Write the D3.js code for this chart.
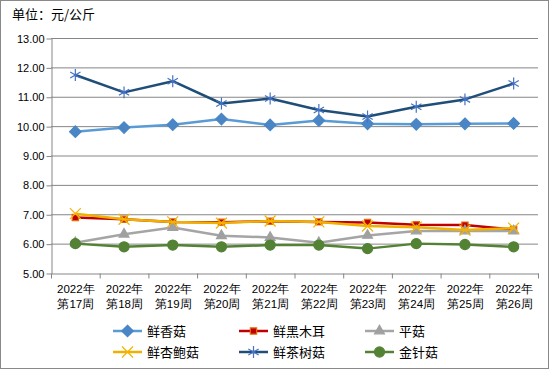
<!DOCTYPE html>
<html>
<head>
<meta charset="utf-8">
<script src="https://cdn.jsdelivr.net/npm/d3@7"></script>
<style>
  body { margin: 0; background: #fff; }
  svg { display: block; font-family: "Noto Sans CJK SC", sans-serif; }
</style>
</head>
<body>
<svg id="mainSvg" width="550" height="370"></svg>
<script>
let weeks = ["第17周","第18周","第19周","第20周","第21周","第22周","第23周","第24周","第25周","第26周"];
let yTicks = [5, 6, 7, 8, 9, 10, 11, 12, 13];

let xiangGu = [9.81, 9.95, 10.05, 10.24, 10.04, 10.19, 10.08, 10.06, 10.08, 10.09];
let heiMuEr = [6.89, 6.83, 6.74, 6.73, 6.76, 6.74, 6.72, 6.64, 6.63, 6.48];
let pingGu = [6.03, 6.32, 6.55, 6.27, 6.21, 6.03, 6.28, 6.43, 6.43, 6.43];
let xingBaoGu = [7.02, 6.83, 6.74, 6.70, 6.77, 6.74, 6.60, 6.56, 6.46, 6.53];
let chaShuGu = [11.74, 11.15, 11.53, 10.77, 10.94, 10.55, 10.33, 10.66, 10.91, 11.45];
let jinZhenGu = [6.00, 5.89, 5.95, 5.89, 5.95, 5.95, 5.83, 6.00, 5.97, 5.89];

let series = [
  {name: "鲜香菇", values: xiangGu, line: "#5B9BD5", fill: "#4A86C5", stroke: "#4A86C5", sym: d3.symbolDiamond2, size: 85},
  {name: "鲜黑木耳", values: heiMuEr, line: "#C00000", fill: "#C00000", stroke: "#E46C0A", sym: d3.symbolSquare2, size: 50},
  {name: "平菇", values: pingGu, line: "#A5A5A5", fill: "#A0A0A0", stroke: "#A0A0A0", sym: d3.symbolTriangle2, size: 70},
  {name: "鲜杏鲍菇", values: xingBaoGu, line: "#F0B000", fill: "none", stroke: "#F5B400", sym: d3.symbolTimes, size: 80},
  {name: "鲜茶树菇", values: chaShuGu, line: "#1F4E79", fill: "none", stroke: "#4472C4", sym: d3.symbolAsterisk, size: 100},
  {name: "金针菇", values: jinZhenGu, line: "#548235", fill: "#548235", stroke: "#548235", sym: d3.symbolCircle, size: 80}
];

let svg = d3.select('#mainSvg');

svg.append('rect')
  .attr('x', 0.5).attr('y', 0.5)
  .attr('width', 548).attr('height', 368)
  .attr('fill', '#fff')
  .attr('stroke', '#898989');

svg.append('text')
  .attr('x', 12).attr('y', 19)
  .attr('font-size', 13)
  .text('单位：元/公斤');

let plotL = 51, plotR = 538, plotT = 38, plotB = 273;

let x = d3.scaleBand().domain(weeks).range([plotL, plotR]);
let y = d3.scaleLinear().domain([5, 13]).range([plotB, plotT]);

// gridlines
svg.append('g').selectAll('line')
  .data(yTicks.slice(1))
  .join('line')
  .attr('x1', plotL).attr('x2', plotR)
  .attr('y1', d => y(d) + 0.5).attr('y2', d => y(d) + 0.5)
  .attr('stroke', '#868686');

// y axis
let yAxis = svg.append('g')
  .attr('transform', `translate(${plotL + 0.5},0.5)`)
  .call(d3.axisLeft(y).tickValues(yTicks).tickFormat(d3.format('.2f')).tickSize(5).tickSizeOuter(0));
yAxis.select('.domain').attr('stroke', '#868686');
yAxis.selectAll('line').attr('stroke', '#868686');
yAxis.selectAll('text').attr('font-size', 11).attr('fill', '#000').attr('x', -7);

// x axis
let xAxis = svg.append('g')
  .attr('transform', `translate(0.5,${plotB + 0.5})`)
  .call(d3.axisBottom(x).tickSize(0).tickSizeOuter(0));
xAxis.select('.domain').attr('stroke', '#868686');
xAxis.selectAll('text').remove();
xAxis.selectAll('.tick').append('line')
  .attr('x1', -x.bandwidth() / 2).attr('x2', -x.bandwidth() / 2)
  .attr('y1', 0).attr('y2', 5)
  .attr('stroke', '#868686');
xAxis.append('line')
  .attr('x1', plotR).attr('x2', plotR).attr('y1', 0).attr('y2', 5)
  .attr('stroke', '#868686');
let lbl = xAxis.selectAll('.tick').append('text')
  .attr('fill', '#000').attr('font-size', 11.5).attr('text-anchor', 'middle');
lbl.append('tspan').attr('x', 0).attr('y', 19).text('2022年');
lbl.append('tspan').attr('x', 0).attr('y', 34).text(d => d);

let cx = (d, i) => x(weeks[i]) + x.bandwidth() / 2;
let line = d3.line().x(cx).y(d => y(d));

let g = svg.append('g');
series.forEach(s => {
  g.append('path')
    .attr('d', line(s.values))
    .attr('fill', 'none')
    .attr('stroke', s.line)
    .attr('stroke-width', 2.5)
    .attr('stroke-linejoin', 'round');
  g.selectAll(null)
    .data(s.values)
    .join('path')
    .attr('transform', (d, i) => `translate(${cx(d, i)},${y(d)})`)
    .attr('d', d3.symbol(s.sym, s.size))
    .attr('fill', s.fill)
    .attr('stroke', s.stroke)
    .attr('stroke-width', 1.2);
});

// legend
let legend = svg.append('g');
let legX = [113, 239, 365];
let legY = [331, 352];
series.forEach((s, i) => {
  let lx = legX[i % 3], ly = legY[Math.floor(i / 3)];
  let item = legend.append('g').attr('transform', `translate(${lx},${ly})`);
  item.append('line')
    .attr('x1', 0).attr('x2', 29)
    .attr('stroke', s.line).attr('stroke-width', 2.5);
  item.append('path')
    .attr('transform', 'translate(14.5,0)')
    .attr('d', d3.symbol(s.sym, s.size))
    .attr('fill', s.fill)
    .attr('stroke', s.stroke)
    .attr('stroke-width', 1.2);
  item.append('text')
    .attr('x', 34).attr('y', 5)
    .attr('font-size', 13)
    .text(s.name);
});
</script>
</body>
</html>
